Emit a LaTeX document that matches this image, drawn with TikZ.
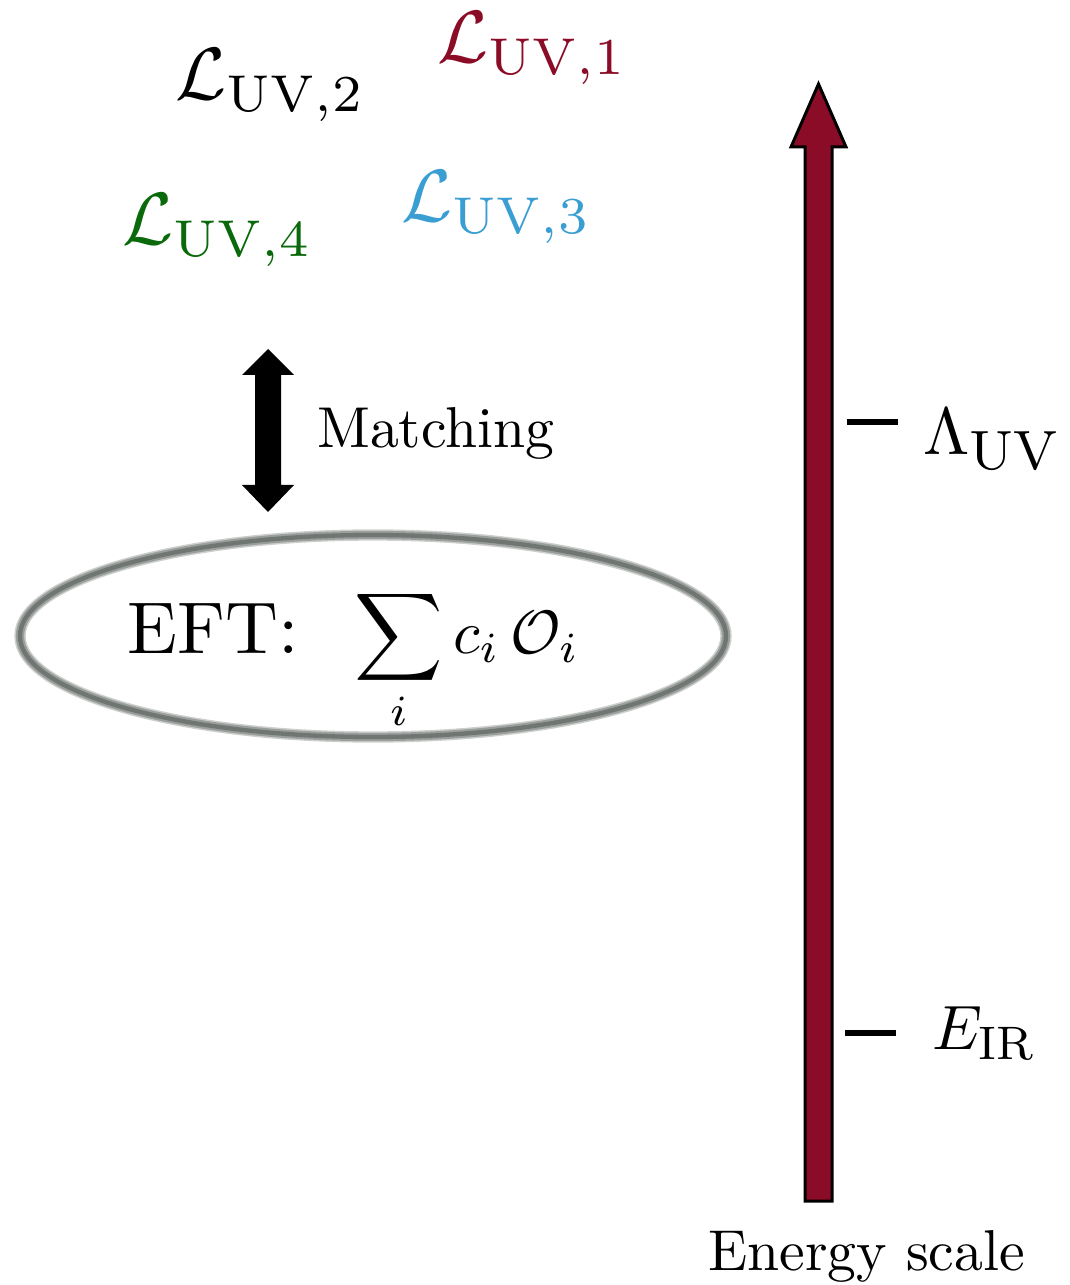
\documentclass[tikz,border=0pt]{standalone}
\usepackage{amsmath}
\usetikzlibrary{shapes.geometric}
\definecolor{scalered}{RGB}{139,12,38}
\definecolor{uvblue}{RGB}{58,158,210}
\definecolor{uvgreen}{RGB}{10,105,10}
\definecolor{eftgray}{RGB}{112,118,114}
\newcommand{\subtxt}[2]{\hbox{\fontsize{#1}{#1}\selectfont #2}}
\begin{document}
\begin{tikzpicture}[x=0.3pt,y=-0.3pt,
  txt/.style={font=\fontsize{10}{12}\selectfont, inner sep=0pt, anchor=base west},
  lag/.style={txt, scale=2.22},
  lbl/.style={txt, scale=1.73},
  tick/.style={line width=2pt, black},
  bigarrow/.style={fill=scalered, draw=black, line width=0.9pt, line join=miter}]
\useasboundingbox (0,0) rectangle (1069,1285);
% UV Lagrangians
\node[lag, text=scalered] (uv1) at (436,63) {$\mathcal{L}_{\mathrm{UV},1}$};
\node[lag] (uv2) at (174,100) {$\mathcal{L}_{\mathrm{UV},2}$};
\node[lag, text=uvblue] (uv3) at (400,222) {$\mathcal{L}_{\mathrm{UV},3}$};
\node[lag, text=uvgreen] (uv4) at (121,245) {$\mathcal{L}_{\mathrm{UV},4}$};
% matching arrow
\fill[black] (268,349) -- (294,375) -- (281,375) -- (281,485) -- (294,485) -- (268,512) -- (242,485) -- (255,485) -- (255,375) -- (242,375) -- cycle;
\node[lbl] (match) at (316,448) {Matching};
% EFT ellipse (soft grey stroke)
\node[ellipse, draw=eftgray!35, line width=3.4pt, minimum width=211.8pt, minimum height=60.6pt, inner sep=0pt] (eft) at (373,636) {};
\draw[eftgray!70, line width=2.5pt] (eft.center) ellipse [x radius=105.9pt, y radius=30.3pt];
\draw[eftgray, line width=1.3pt] (eft.center) ellipse [x radius=105.9pt, y radius=30.3pt];
\node[txt, scale=2.2] (efttext) at (126,653) {EFT:};
\node[txt, scale=1.84] (eftsum) at (353,653) {$\displaystyle\sum_i c_i\,\mathcal{O}_i$};
% energy scale arrow
\coordinate (ab) at (818.5,1201);
\coordinate (at) at (818.5,84);
\draw[bigarrow] (805,1201) -- (805,147) -- (791,147) -- (at) -- (846,147) -- (832,147) -- (832,1201) -- cycle;
\coordinate (t1a) at (847,422); \coordinate (t1b) at (898,422);
\coordinate (t2a) at (845,1033); \coordinate (t2b) at (896,1033);
\draw[tick] (t1a) -- (t1b);
\draw[tick] (t2a) -- (t2b);
\node[txt, scale=2.0] (lam) at (922,455) {$\Lambda_{\subtxt{8.3}{UV}}$};
\node[txt, scale=1.88] (eir) at (931,1049) {$E_{\subtxt{7.5}{IR}}$};
\node[lbl] (es) at (707,1270) {Energy scale};
\end{tikzpicture}
\end{document}
